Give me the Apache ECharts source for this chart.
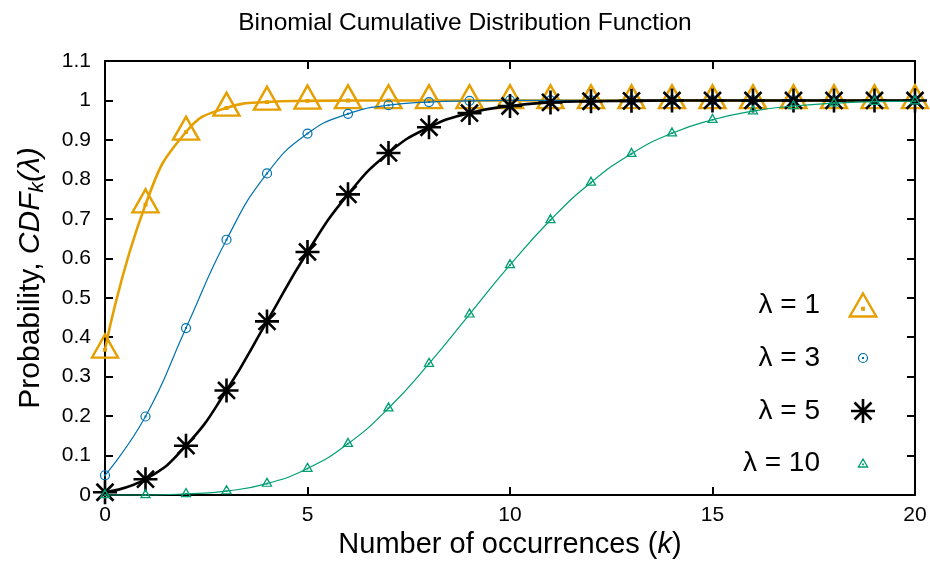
<!DOCTYPE html>
<html>
<head>
<meta charset="utf-8">
<script src="https://cdn.jsdelivr.net/npm/echarts@6/dist/echarts.min.js"></script>
<style>
html,body{margin:0;padding:0;background:#fff;}
#chart{width:930px;height:562px;}
</style>
</head>
<body>
<div id="chart"></div>
<script>
// ---- data ----
var kValues = [0,1,2,3,4,5,6,7,8,9,10,11,12,13,14,15,16,17,18,19,20];
var seriesNames = ['λ = 1', 'λ = 3', 'λ = 5', 'λ = 10'];
var cdfLambda1 = [0.368,0.736,0.920,0.981,0.996,0.999,1.000,1.000,1.000,1.000,1.000,1.000,1.000,1.000,1.000,1.000,1.000,1.000,1.000,1.000,1.000];
var cdfLambda3 = [0.050,0.199,0.423,0.647,0.815,0.916,0.966,0.988,0.996,0.999,1.000,1.000,1.000,1.000,1.000,1.000,1.000,1.000,1.000,1.000,1.000];
var cdfLambda5 = [0.007,0.040,0.125,0.265,0.440,0.616,0.762,0.867,0.932,0.968,0.986,0.995,0.998,0.999,1.000,1.000,1.000,1.000,1.000,1.000,1.000];
var cdfLambda10 = [0.000,0.000,0.003,0.010,0.029,0.067,0.130,0.220,0.333,0.458,0.583,0.697,0.792,0.865,0.917,0.951,0.973,0.986,0.993,0.997,0.998];
var xTicks = [0,5,10,15,20];
var yTicks = [0,0.1,0.2,0.3,0.4,0.5,0.6,0.7,0.8,0.9,1,1.1];

var FONT = 'Liberation Sans, Arial, Helvetica, sans-serif';
var COLORS = ['#E69F00', '#0072B2', '#000000', '#009E73'];

// symbol shapes
var TRI = 'path://M0,-1L0.866,0.5L-0.866,0.5Z M-0.05,-0.05L0.05,-0.05L0.05,0.05L-0.05,0.05Z';
var CIRC = 'path://M1,0A1,1,0,1,1,-1,0A1,1,0,1,1,1,0Z M-0.09,-0.09L0.09,-0.09L0.09,0.09L-0.09,0.09Z';
var STAR = 'path://M0,-1L0,1M-1,0L1,0M-0.707,-0.707L0.707,0.707M-0.707,0.707L0.707,-0.707';

function pairs(arr){ return kValues.map(function(k,i){ return [k, arr[i]]; }); }

var styles = [
  {data: cdfLambda1, symbol: TRI, size: [26,23], off: [0,-3.8], lw: 2.6, bw: 2.4, iw: 26.6},
  {data: cdfLambda3, symbol: CIRC, size: [9,9], off: [0,0], lw: 1.2, bw: 1.2, iw: 9},
  {data: cdfLambda5, symbol: STAR, size: [24,24], off: [0,0], lw: 2.6, bw: 2.6, iw: 24},
  {data: cdfLambda10, symbol: TRI, size: [9,8], off: [0,-1.3], lw: 1.2, bw: 1.3, iw: 9.2}
];

var series = styles.map(function(s, i){
  return {
    name: seriesNames[i],
    type: 'line',
    data: pairs(s.data),
    smooth: 0.5,
    clip: false,
    showSymbol: true,
    showAllSymbol: true,
    symbol: s.symbol,
    symbolSize: s.size,
    symbolOffset: s.off,
    lineStyle: {color: COLORS[i], width: s.lw},
    itemStyle: {color: 'rgba(0,0,0,0)', borderColor: COLORS[i], borderWidth: s.bw},
    emphasis: {disabled: true},
    animation: false,
    z: 2 + i
  };
});

var legendCenters = [304, 357, 410, 462];
var legendIconCenterX = 863;
var legends = seriesNames.map(function(n, i){
  var s = styles[i];
  return {
    orient: 'vertical',
    align: 'right',
    right: 930 - legendIconCenterX - s.iw / 2 - s.bw / 2,
    top: legendCenters[i] - 13,
    padding: 0,
    itemWidth: 76,
    itemHeight: s.size[1],
    selectedMode: false,
    textStyle: {fontFamily: FONT, fontSize: 28, color: '#000'},
    data: [{
      name: n,
      icon: s.symbol,
      itemStyle: {color: 'rgba(0,0,0,0)', borderColor: COLORS[i], borderWidth: s.bw}
    }]
  };
});

var axisLineStyle = {color: '#000', width: 2};

var option = {
  backgroundColor: '#fff',
  animation: false,
  title: {
    text: 'Binomial Cumulative Distribution Function',
    left: 'center',
    top: 6,
    textStyle: {fontFamily: FONT, fontSize: 24.5, fontWeight: 'normal', color: '#000'}
  },
  legend: legends,
  grid: {left: 105, right: 15, top: 61, bottom: 67, containLabel: false, outerBoundsMode: 'none'},
  xAxis: [{
    type: 'value',
    min: 0, max: 20, interval: 5,
    position: 'bottom',
    name: 'Number of occurrences ({i|k})',
    nameLocation: 'middle',
    nameGap: 34,
    nameTextStyle: {fontFamily: FONT, fontSize: 29, color: '#000',
      rich: {i: {fontFamily: FONT, fontSize: 29, fontStyle: 'italic', color: '#000'}}},
    axisLine: {show: true, onZero: false, lineStyle: axisLineStyle},
    axisTick: {show: true, inside: true, length: 8, lineStyle: axisLineStyle},
    axisLabel: {fontFamily: FONT, fontSize: 21, color: '#000', margin: 10,
      formatter: function(v){ return xTicks.indexOf(v) >= 0 ? String(v) : ''; }},
    splitLine: {show: false}
  }, {
    type: 'value',
    min: 0, max: 20, interval: 5,
    position: 'top',
    axisLine: {show: true, onZero: false, lineStyle: axisLineStyle},
    axisTick: {show: true, inside: true, length: 8, lineStyle: axisLineStyle},
    axisLabel: {show: false},
    splitLine: {show: false}
  }],
  yAxis: [{
    type: 'value',
    min: 0, max: 1.1, interval: 0.1,
    position: 'left',
    name: 'Probability, {i|CDF}{s|k}{i|(λ)}',
    nameLocation: 'middle',
    nameRotate: 90,
    nameGap: 57,
    nameTextStyle: {fontFamily: FONT, fontSize: 30, color: '#000',
      rich: {
        i: {fontFamily: FONT, fontSize: 30, fontStyle: 'italic', color: '#000'},
        s: {fontFamily: FONT, fontSize: 21, fontStyle: 'italic', color: '#000', padding: [14,0,0,0]}
      }},
    axisLine: {show: true, onZero: false, lineStyle: axisLineStyle},
    axisTick: {show: true, inside: true, length: 8, lineStyle: axisLineStyle},
    axisLabel: {fontFamily: FONT, fontSize: 21, color: '#000', margin: 14,
      formatter: function(v){ var r = Math.round(v*10)/10; return yTicks.indexOf(r) >= 0 ? String(r) : ''; }},
    splitLine: {show: false}
  }, {
    type: 'value',
    min: 0, max: 1.1, interval: 0.1,
    position: 'right',
    axisLine: {show: true, onZero: false, lineStyle: axisLineStyle},
    axisTick: {show: true, inside: true, length: 8, lineStyle: axisLineStyle},
    axisLabel: {show: false},
    splitLine: {show: false}
  }],
  series: series
};

var chart = echarts.init(document.getElementById('chart'), null, {renderer: 'canvas'});
chart.setOption(option);
</script>
</body>
</html>
